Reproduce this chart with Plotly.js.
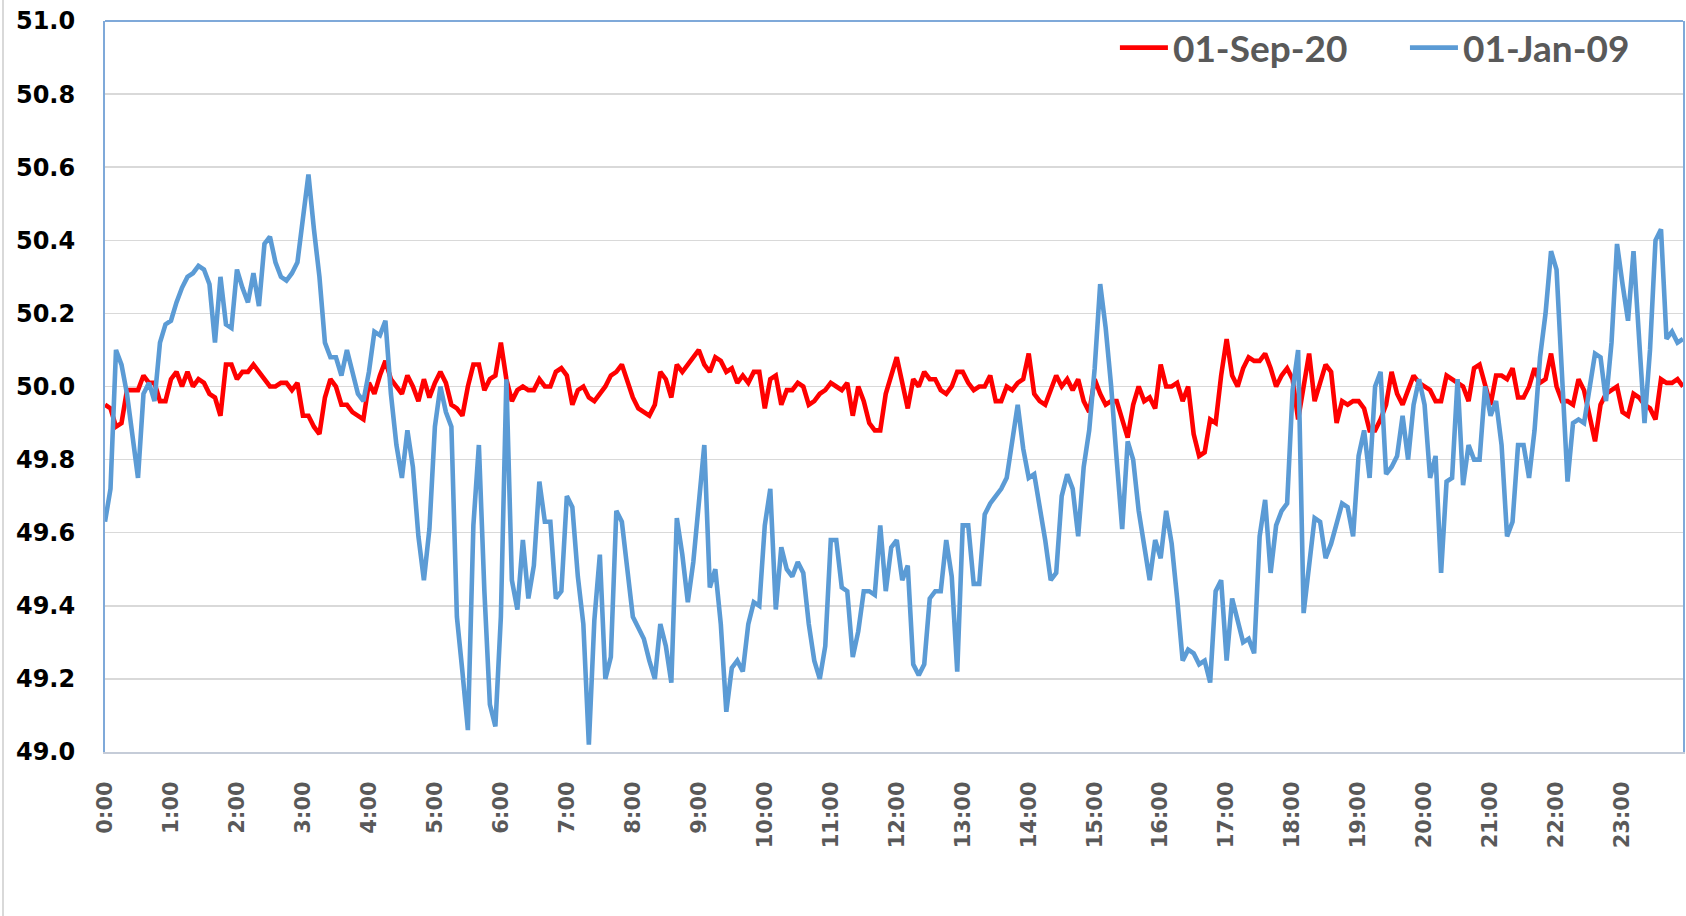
<!DOCTYPE html>
<html>
<head>
<meta charset="utf-8">
<script src="https://cdn.plot.ly/plotly-3.0.1.min.js"></script>
<style>
  html, body { margin: 0; padding: 0; background: #fff; }
  #chart { width: 1686px; height: 916px; position: relative; }
  #frame { position: absolute; left: 2px; top: 0; width: 2px; height: 916px; background: #d9d9d9; }
</style>
</head>
<body>
<div id="frame"></div>
<div id="chart"></div>
<script>
// 5-minute samples, 12 per hour, 288 per day
const hourLabels = ["0:00","1:00","2:00","3:00","4:00","5:00","6:00","7:00","8:00","9:00","10:00","11:00",
  "12:00","13:00","14:00","15:00","16:00","17:00","18:00","19:00","20:00","21:00","22:00","23:00"];

const seriesNames = ["01-Sep-20", "01-Jan-09"];

const sep20 = [
  49.95,49.94,49.89,49.90,49.99,49.99,49.99,50.03,50.01,50.01,49.96,49.96,
  50.02,50.04,50.00,50.04,50.00,50.02,50.01,49.98,49.97,49.92,50.06,50.06,
  50.02,50.04,50.04,50.06,50.04,50.02,50.00,50.00,50.01,50.01,49.99,50.01,
  49.92,49.92,49.89,49.87,49.97,50.02,50.00,49.95,49.95,49.93,49.92,49.91,
  50.01,49.98,50.03,50.07,50.02,50.00,49.98,50.03,50.00,49.96,50.02,49.97,
  50.01,50.04,50.01,49.95,49.94,49.92,50.00,50.06,50.06,49.99,50.02,50.03,
  50.12,50.02,49.96,49.99,50.00,49.99,49.99,50.02,50.00,50.00,50.04,50.05,
  50.03,49.95,49.99,50.00,49.97,49.96,49.98,50.00,50.03,50.04,50.06,50.01,
  49.97,49.94,49.93,49.92,49.95,50.04,50.02,49.97,50.06,50.04,50.06,50.08,
  50.10,50.06,50.04,50.08,50.07,50.04,50.05,50.01,50.03,50.01,50.04,50.04,
  49.94,50.02,50.03,49.95,49.99,49.99,50.01,50.00,49.95,49.96,49.98,49.99,
  50.01,50.00,49.99,50.01,49.92,50.00,49.96,49.90,49.88,49.88,49.98,50.03,
  50.08,50.01,49.94,50.02,50.00,50.04,50.02,50.02,49.99,49.98,50.00,50.04,
  50.04,50.01,49.99,50.00,50.00,50.03,49.96,49.96,50.00,49.99,50.01,50.02,
  50.09,49.98,49.96,49.95,49.99,50.03,50.00,50.02,49.99,50.02,49.96,49.93,
  50.02,49.98,49.95,49.96,49.96,49.91,49.86,49.95,50.00,49.96,49.97,49.94,
  50.06,50.00,50.00,50.01,49.96,50.00,49.87,49.81,49.82,49.91,49.90,50.03,
  50.13,50.03,50.00,50.05,50.08,50.07,50.07,50.09,50.05,50.00,50.03,50.05,
  50.02,49.91,50.01,50.09,49.96,50.01,50.06,50.04,49.90,49.96,49.95,49.96,
  49.96,49.94,49.88,49.88,49.91,49.95,50.04,49.98,49.95,49.99,50.03,50.01,
  50.00,49.99,49.96,49.96,50.03,50.02,50.01,50.00,49.96,50.05,50.06,50.00,
  49.95,50.03,50.03,50.02,50.05,49.97,49.97,50.00,50.05,50.01,50.02,50.09,
  50.00,49.96,49.96,49.95,50.02,49.99,49.92,49.85,49.95,49.98,49.99,50.00,
  49.93,49.92,49.98,49.97,49.95,49.94,49.91,50.02,50.01,50.01,50.02,50.00
];

const jan09 = [
  49.63,49.72,50.10,50.06,49.98,49.86,49.75,49.98,50.01,49.96,50.12,50.17,
  50.18,50.23,50.27,50.30,50.31,50.33,50.32,50.28,50.12,50.30,50.17,50.16,
  50.32,50.27,50.23,50.31,50.22,50.39,50.41,50.34,50.30,50.29,50.31,50.34,
  50.46,50.58,50.43,50.30,50.12,50.08,50.08,50.03,50.10,50.04,49.98,49.96,
  50.04,50.15,50.14,50.18,49.98,49.84,49.75,49.88,49.78,49.59,49.47,49.61,
  49.89,50.00,49.93,49.89,49.37,49.22,49.06,49.62,49.84,49.44,49.13,49.07,
  49.37,50.02,49.47,49.39,49.58,49.42,49.51,49.74,49.63,49.63,49.42,49.44,
  49.70,49.67,49.48,49.35,49.02,49.36,49.54,49.20,49.26,49.66,49.63,49.50,
  49.37,49.34,49.31,49.25,49.20,49.35,49.29,49.19,49.64,49.54,49.41,49.52,
  49.67,49.84,49.45,49.50,49.35,49.11,49.23,49.25,49.22,49.35,49.41,49.40,
  49.62,49.72,49.39,49.56,49.50,49.48,49.52,49.49,49.35,49.25,49.20,49.29,
  49.58,49.58,49.45,49.44,49.26,49.33,49.44,49.44,49.43,49.62,49.44,49.56,
  49.58,49.47,49.51,49.24,49.21,49.24,49.42,49.44,49.44,49.58,49.48,49.22,
  49.62,49.62,49.46,49.46,49.65,49.68,49.70,49.72,49.75,49.85,49.95,49.83,
  49.75,49.76,49.67,49.58,49.47,49.49,49.70,49.76,49.72,49.59,49.78,49.88,
  50.05,50.28,50.16,50.00,49.80,49.61,49.85,49.80,49.66,49.57,49.47,49.58,
  49.53,49.66,49.57,49.42,49.25,49.28,49.27,49.24,49.25,49.19,49.44,49.47,
  49.25,49.42,49.36,49.30,49.31,49.27,49.59,49.69,49.49,49.62,49.66,49.68,
  49.99,50.10,49.38,49.52,49.64,49.63,49.53,49.57,49.62,49.68,49.67,49.59,
  49.81,49.88,49.75,50.00,50.04,49.76,49.78,49.81,49.92,49.80,49.95,50.02,
  49.95,49.75,49.81,49.49,49.74,49.75,50.02,49.73,49.84,49.80,49.80,50.00,
  49.92,49.96,49.84,49.59,49.63,49.84,49.84,49.75,49.88,50.08,50.20,50.37,
  50.32,50.00,49.74,49.90,49.91,49.90,49.99,50.09,50.08,49.96,50.12,50.39,
  50.28,50.18,50.37,50.13,49.90,50.10,50.40,50.43,50.13,50.15,50.12,50.13
];

const yTicks = [49.0,49.2,49.4,49.6,49.8,50.0,50.2,50.4,50.6,50.8,51.0];

// sample time in hours (sample index / 12)
const tHours = sep20.map((_, i) => i / 12);
const hourVals = hourLabels.map((_, h) => h);

const traces = [
  { x: tHours, y: sep20, name: seriesNames[0], type: 'scatter', mode: 'lines',
    line: { color: '#FF0000', width: 4.6 }, legend: 'legend' },
  { x: tHours, y: jan09, name: seriesNames[1], type: 'scatter', mode: 'lines',
    line: { color: '#5B9BD5', width: 4.6 }, legend: 'legend2' }
];

const legendFont = { family: 'Lato, "Open Sans", sans-serif', size: 37, color: '#595959', weight: 'bold' };

const layout = {
  width: 1686, height: 916,
  margin: { l: 105, r: 3, t: 21, b: 164 },
  paper_bgcolor: 'rgba(0,0,0,0)', plot_bgcolor: '#ffffff',
  showlegend: true,
  legend: {
    orientation: 'h', x: 0.640, xanchor: 'left', y: 0.963, yanchor: 'middle',
    font: legendFont, bgcolor: 'rgba(255,255,255,0)', itemwidth: 48
  },
  legend2: {
    orientation: 'h', x: 0.8238, xanchor: 'left', y: 0.963, yanchor: 'middle',
    font: legendFont, bgcolor: 'rgba(255,255,255,0)', itemwidth: 48
  },
  xaxis: {
    type: 'linear', range: [0, 287/12],
    tickvals: hourVals, ticktext: hourLabels, tickangle: -90,
    tickfont: { family: '"DejaVu Sans", Verdana, sans-serif', size: 21, color: '#595959', weight: 'bold' },
    ticks: 'outside', ticklen: 19, tickcolor: 'rgba(0,0,0,0)',
    showgrid: false, zeroline: false,
    showline: true, linecolor: '#C5CCD8', linewidth: 2
  },
  yaxis: {
    range: [49.0, 51.0], tickvals: yTicks, tickformat: '.1f',
    tickfont: { family: '"DejaVu Sans", Verdana, sans-serif', size: 24, color: '#000000', weight: 'bold' },
    ticks: 'outside', ticklen: 23, tickcolor: 'rgba(0,0,0,0)',
    showgrid: true, gridcolor: '#D9D9D9', gridwidth: 1.5,
    zeroline: false, showline: true, linecolor: '#7FA9D9', linewidth: 2, mirror: true
  },
  shapes: [
    { type: 'line', xref: 'paper', yref: 'paper', x0: 0, x1: 1, y0: 1, y1: 1,
      line: { color: '#7FA9D9', width: 2 } }
  ]
};

Plotly.newPlot('chart', traces, layout, { displayModeBar: false, staticPlot: true });
</script>
</body>
</html>
